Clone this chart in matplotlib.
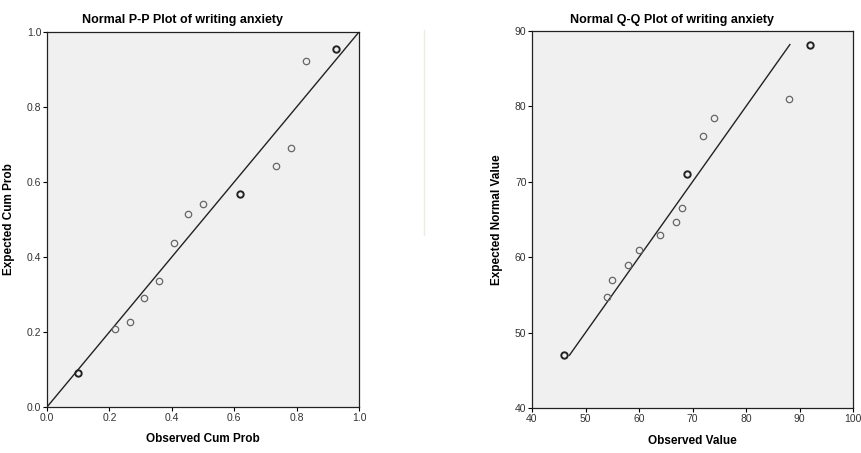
import numpy as np
import matplotlib
matplotlib.use("Agg")
import matplotlib.pyplot as plt
from matplotlib import font_manager

plt.rcParams['font.family'] = ['Liberation Sans', 'DejaVu Sans']
names = {f.name for f in font_manager.fontManager.ttflist}
tick_family = ['Liberation Sans Narrow', 'Liberation Sans'] if 'Liberation Sans Narrow' in names else ['Liberation Sans']

# P-P plot values
pp_observed = [0.099, 0.217, 0.265, 0.311, 0.359, 0.406, 0.452, 0.499, 0.618, 0.735, 0.783, 0.830, 0.925]
pp_expected = [0.091, 0.207, 0.226, 0.290, 0.337, 0.437, 0.515, 0.542, 0.567, 0.644, 0.692, 0.924, 0.955]
pp_counts = [2, 1, 1, 1, 1, 1, 1, 1, 2, 1, 1, 1, 2]

# Q-Q plot values
qq_observed = [46, 54, 55, 58, 60, 64, 67, 68, 69, 72, 74, 88, 92]
qq_expected = [47.0, 54.7, 57.0, 59.0, 61.0, 62.9, 64.7, 66.5, 71.0, 76.1, 78.4, 81.0, 88.2]
qq_counts = [2, 1, 1, 1, 1, 1, 1, 1, 2, 1, 1, 1, 2]
qq_line = [47.0, 88.2]

pp_ticks = [0.0, 0.2, 0.4, 0.6, 0.8, 1.0]
qq_xticks = [40, 50, 60, 70, 80, 90, 100]
qq_yticks = [40, 50, 60, 70, 80, 90]

fig = plt.figure(figsize=(8.61, 4.53), dpi=100)
ax1 = fig.add_axes([47/861, 1-407/453, 312/861, 375/453])
ax2 = fig.add_axes([532/861, 1-408/453, 321/861, 377/453])


def style(ax):
    ax.set_facecolor('#f0f0f0')
    for s in ax.spines.values():
        s.set_linewidth(0.9)
        s.set_color('#222222')
    ax.tick_params(direction='out', length=3, width=0.8, labelsize=7.5,
                   labelcolor='#333333', pad=1)
    for lab in ax.get_xticklabels() + ax.get_yticklabels():
        lab.set_family(tick_family)


def scatter(ax, xs, ys, counts):
    for x, y, c in zip(xs, ys, counts):
        ax.plot(x, y, 'o', ms=4.6, mfc='none',
                mec='#222222' if c > 1 else '#666666',
                mew=1.4 if c > 1 else 0.9, zorder=3)


# P-P
ax1.plot([0, 1], [0, 1], color='#222222', lw=1)
scatter(ax1, pp_observed, pp_expected, pp_counts)
ax1.set_xlim(0, 1)
ax1.set_ylim(0, 1)
ax1.set_xticks(pp_ticks)
ax1.set_yticks(pp_ticks)
ax1.set_xticklabels([f"{t:.1f}" for t in pp_ticks])
ax1.set_yticklabels([f"{t:.1f}" for t in pp_ticks])
style(ax1)
ax1.set_xlabel("Observed Cum Prob", fontsize=8.5, fontweight='bold')
ax1.set_ylabel("Expected Cum Prob", fontsize=8.5, fontweight='bold')
ax1.xaxis.set_label_coords(0.5, -0.069)
ax1.yaxis.set_label_coords(-0.103, 0.5)

# Q-Q
ax2.plot(qq_line, qq_line, color='#222222', lw=1)
scatter(ax2, qq_observed, qq_expected, qq_counts)
ax2.set_xlim(40, 100)
ax2.set_ylim(40, 90)
ax2.set_xticks(qq_xticks)
ax2.set_yticks(qq_yticks)
style(ax2)
ax2.set_xlabel("Observed Value", fontsize=8.5, fontweight='bold')
ax2.set_ylabel("Expected Normal Value", fontsize=8.5, fontweight='bold')
ax2.xaxis.set_label_coords(0.5, -0.072)
ax2.yaxis.set_label_coords(-0.09, 0.5)

fig.text(182/861, 1-20/453, "Normal P-P Plot of writing anxiety", ha='center', va='center',
         fontsize=9, fontweight='bold')
fig.text(672/861, 1-20/453, "Normal Q-Q Plot of writing anxiety", ha='center', va='center',
         fontsize=9, fontweight='bold')

# faint divider between the panels
fig.add_artist(plt.Line2D([424/861, 424/861], [1-30/453, 1-235/453], color='#e4f0e0', lw=1))

fig.savefig("out.png", dpi=100)
